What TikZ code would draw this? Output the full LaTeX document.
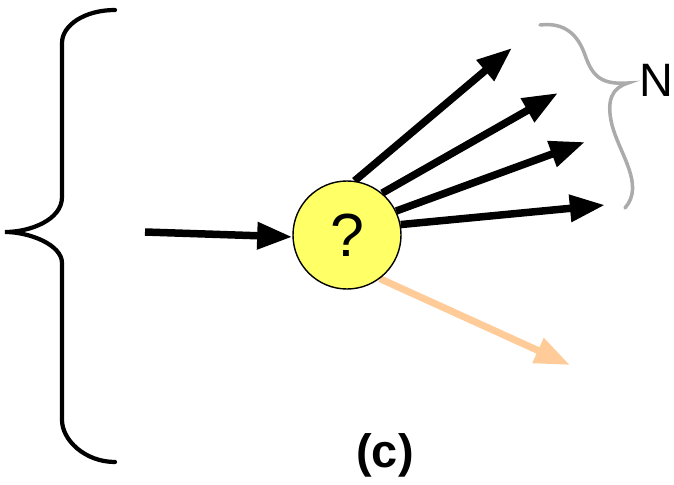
\documentclass[tikz,border=0pt]{standalone}
\usepackage{fontspec}
\setmainfont{Liberation Sans}
\usetikzlibrary{arrows.meta, backgrounds}
\definecolor{amarilloNodo}{HTML}{FFFF66}
\definecolor{naranjaClaro}{HTML}{FFCC99}
\definecolor{grisLlave}{HTML}{ABABAB}
\tikzset{
  flecha/.style={-{Triangle[length=30pt, width=22pt]}, line width=6.4pt, black},
  flechaTenue/.style={flecha, naranjaClaro, line width=6pt},
  llave/.style={line width=3.6pt, line cap=round, black},
  llaveGris/.style={llave, grisLlave, line width=3pt},
  nodoPregunta/.style={circle, draw=black, line width=1.2pt, fill=amarilloNodo,
    minimum size=3.24cm, inner sep=0pt, font=\fontsize{52}{56}\selectfont},
  etiqueta/.style={font=\fontsize{40}{44}\selectfont, inner sep=0pt},
}
\begin{document}
\begin{tikzpicture}[x=0.03cm, y=-0.03cm]
  \useasboundingbox (0,0) rectangle (674,485);
  % nodo central y extremos de las flechas
  \node[nodoPregunta] (preg) at (347,235) {?};
  \coordinate (entrada) at (145,232);
  \coordinate (sal1) at (512,48);
  \coordinate (sal2) at (558,93);
  \coordinate (sal3) at (585,142);
  \coordinate (sal4) at (605,205);
  \coordinate (perdida) at (570,365);
  \node[etiqueta] (n) at (656,80) {N};
  \node[etiqueta, font=\fontsize{40}{44}\selectfont\bfseries] (c) at (385,455) {(c)};
  % flechas por debajo del circulo
  \begin{scope}[on background layer]
    \draw[flecha] (entrada) -- (preg.182);
    \draw[flecha] (preg.82) -- (sal1);
    \draw[flecha] (preg.50) -- (sal2);
    \draw[flecha] (preg.26) -- (sal3);
    \draw[flecha] (preg.11) -- (sal4);
    \draw[flechaTenue] (preg.-53) -- (perdida);
  \end{scope}
  % llave grande
  \draw[llave] (115,10) .. controls (85,10) and (62,25) .. (62,43) -- (62,197)
    .. controls (62,220) and (30,232) .. (5,232)
    .. controls (30,232) and (62,245) .. (62,263) -- (62,420)
    .. controls (62,440) and (85,462) .. (115,462);
  % llave gris de las N salidas
  \draw[llaveGris] (540,25) .. controls (565,22) and (578,35) .. (585,55)
    .. controls (592,75) and (600,85) .. (628,83)
    .. controls (612,88) and (606,100) .. (612,125)
    .. controls (620,155) and (645,185) .. (625,208);
\end{tikzpicture}
\end{document}
